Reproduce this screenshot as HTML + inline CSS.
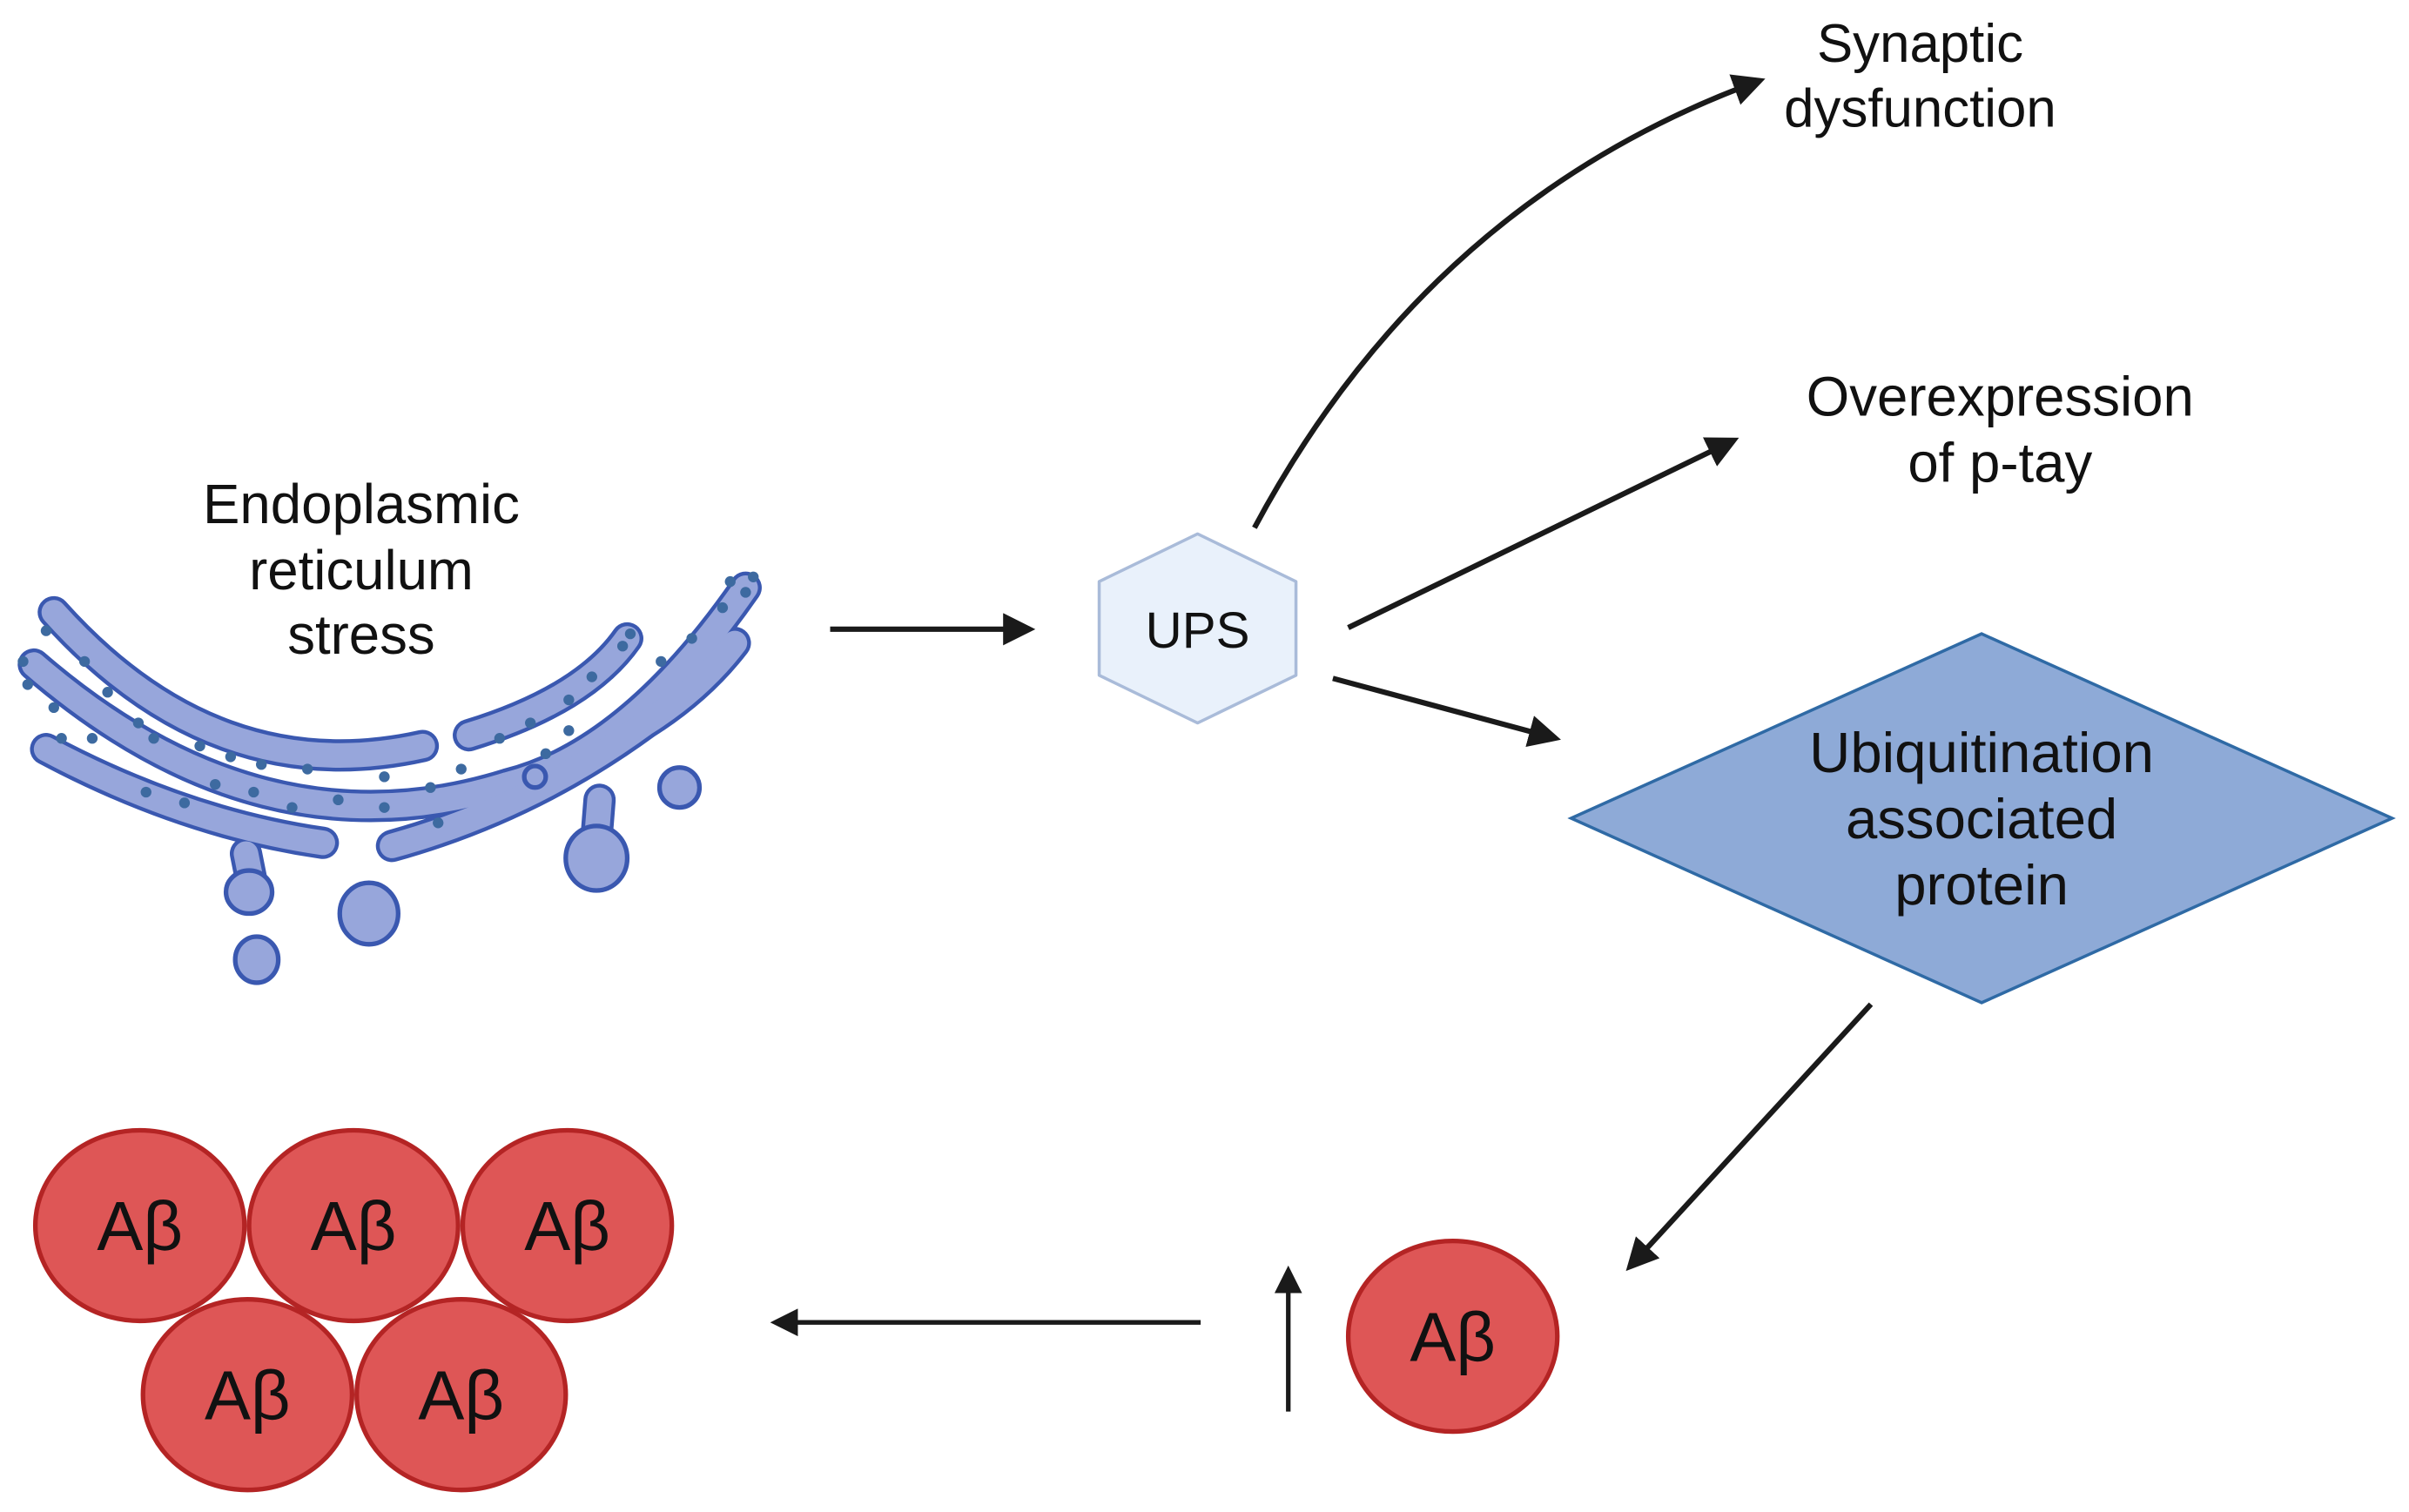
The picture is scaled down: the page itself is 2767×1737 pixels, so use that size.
<!DOCTYPE html>
<html><head><meta charset="utf-8"><style>
html,body{margin:0;padding:0;background:#fff;}
svg{display:block;}
text{font-family:"Liberation Sans",sans-serif;fill:#111;text-anchor:middle;}
</style></head><body>
<svg width="2767" height="1737" viewBox="0 0 1567 983" xmlns="http://www.w3.org/2000/svg">
<defs>
<marker id="ah" markerWidth="6" markerHeight="6" refX="5" refY="3" orient="auto" markerUnits="strokeWidth">
<path d="M0,0 L6,3 L0,6 z" fill="#1a1a1a"/></marker>
</defs>
<rect width="1567" height="983" fill="#fff"/>

<!-- ER text -->
<text x="235" y="340" font-size="36">Endoplasmic</text>
<text x="235" y="383" font-size="36">reticulum</text>
<text x="235" y="425" font-size="36">stress</text>

<!-- ER shape -->
<g fill="none" stroke-linecap="round">
<g stroke="#3a58b0" stroke-width="21">
<path d="M35,398 Q140,515 275,485"/>
<path d="M305,478 Q380,455 408,415"/>
<path d="M22,432 Q170,560 330,510 Q410,490 485,382"/>
<path d="M30,487 Q120,535 210,548"/>
<path d="M255,550 Q345,525 420,470 Q455,448 478,418"/>
<path d="M160,555 L165,580"/>
<path d="M390,520 L388,545"/>
</g>
<g stroke="#97a6db" stroke-width="16">
<path d="M35,398 Q140,515 275,485"/>
<path d="M305,478 Q380,455 408,415"/>
<path d="M22,432 Q170,560 330,510 Q410,490 485,382"/>
<path d="M30,487 Q120,535 210,548"/>
<path d="M255,550 Q345,525 420,470 Q455,448 478,418"/>
<path d="M160,555 L165,580"/>
<path d="M390,520 L388,545"/>
</g>
</g>
<g fill="#97a6db" stroke="#3a58b0" stroke-width="3">
<ellipse cx="167" cy="624" rx="14" ry="15"/>
<ellipse cx="240" cy="594" rx="19" ry="20"/>
<ellipse cx="442" cy="512" rx="13" ry="13"/>
<ellipse cx="388" cy="558" rx="20" ry="21"/>
<ellipse cx="162" cy="580" rx="15" ry="14"/>
<ellipse cx="348" cy="505" rx="7" ry="7"/>
</g>
<g fill="#3d6aa0">
<circle cx="30" cy="410" r="3.5"/><circle cx="55" cy="430" r="3.5"/><circle cx="70" cy="450" r="3.5"/><circle cx="90" cy="470" r="3.5"/>
<circle cx="15" cy="430" r="3.5"/><circle cx="18" cy="445" r="3.5"/><circle cx="35" cy="460" r="3.5"/><circle cx="100" cy="480" r="3.5"/>
<circle cx="130" cy="485" r="3.5"/><circle cx="150" cy="492" r="3.5"/><circle cx="170" cy="497" r="3.5"/><circle cx="200" cy="500" r="3.5"/>
<circle cx="140" cy="510" r="3.5"/><circle cx="165" cy="515" r="3.5"/><circle cx="190" cy="525" r="3.5"/><circle cx="220" cy="520" r="3.5"/>
<circle cx="250" cy="525" r="3.5"/><circle cx="280" cy="512" r="3.5"/><circle cx="300" cy="500" r="3.5"/><circle cx="325" cy="480" r="3.5"/>
<circle cx="345" cy="470" r="3.5"/><circle cx="370" cy="455" r="3.5"/><circle cx="385" cy="440" r="3.5"/><circle cx="405" cy="420" r="3.5"/>
<circle cx="410" cy="412" r="3.5"/><circle cx="430" cy="430" r="3.5"/><circle cx="450" cy="415" r="3.5"/><circle cx="470" cy="395" r="3.5"/>
<circle cx="485" cy="385" r="3.5"/><circle cx="490" cy="375" r="3.5"/><circle cx="475" cy="378" r="3.5"/><circle cx="60" cy="480" r="3.5"/>
<circle cx="95" cy="515" r="3.5"/><circle cx="120" cy="522" r="3.5"/><circle cx="250" cy="505" r="3.5"/><circle cx="285" cy="535" r="3.5"/>
<circle cx="370" cy="475" r="3.5"/><circle cx="355" cy="490" r="3.5"/><circle cx="40" cy="480" r="3.5"/>
</g>

<!-- arrow ER -> UPS -->
<line x1="540" y1="409" x2="670" y2="409" stroke="#1a1a1a" stroke-width="3.5" marker-end="url(#ah)"/>

<!-- UPS hexagon -->
<polygon points="779,347 843,378 843,439 779,470 715,439 715,378" fill="#e9f1fb" stroke="#a9bbd9" stroke-width="2" stroke-linejoin="round"/>
<text x="779" y="421" font-size="33">UPS</text>

<!-- arrows from UPS -->
<path d="M816,343 Q930,130 1145,52" fill="none" stroke="#1a1a1a" stroke-width="3.5" marker-end="url(#ah)"/>
<line x1="877" y1="408" x2="1128" y2="286" stroke="#1a1a1a" stroke-width="3.5" marker-end="url(#ah)"/>
<line x1="867" y1="441" x2="1012" y2="480" stroke="#1a1a1a" stroke-width="3.5" marker-end="url(#ah)"/>

<text x="1249" y="40" font-size="35">Synaptic</text>
<text x="1249" y="82" font-size="35">dysfunction</text>
<text x="1301" y="270" font-size="36">Overexpression</text>
<text x="1301" y="313" font-size="36">of p-tay</text>

<!-- diamond -->
<polygon points="1289,412 1556,532 1289,652 1022,532" fill="#8eaad7" stroke="#2f6aa5" stroke-width="2"/>
<text x="1289" y="502" font-size="37">Ubiquitination</text>
<text x="1289" y="545" font-size="37">associated</text>
<text x="1289" y="588" font-size="37">protein</text>

<line x1="1217" y1="653" x2="1060" y2="824" stroke="#1a1a1a" stroke-width="3.5" marker-end="url(#ah)"/>

<!-- single Abeta -->
<g fill="#de5656" stroke="#b42424" stroke-width="3">
<ellipse cx="945" cy="869" rx="68" ry="62"/>
</g>
<text x="945" y="885" font-size="45">Aβ</text>

<line x1="838" y1="918" x2="838" y2="826" stroke="#1a1a1a" stroke-width="3" marker-end="url(#ah)"/>
<line x1="781" y1="860" x2="504" y2="860" stroke="#1a1a1a" stroke-width="3" marker-end="url(#ah)"/>

<!-- cluster -->
<g fill="#de5656" stroke="#b42424" stroke-width="3">
<ellipse cx="91" cy="797" rx="68" ry="62"/>
<ellipse cx="369" cy="797" rx="68" ry="62"/>
<ellipse cx="230" cy="797" rx="68" ry="62"/>
<ellipse cx="161" cy="907" rx="68" ry="62"/>
<ellipse cx="300" cy="907" rx="68" ry="62"/>
</g>
<text x="91" y="813" font-size="45">Aβ</text>
<text x="230" y="813" font-size="45">Aβ</text>
<text x="369" y="813" font-size="45">Aβ</text>
<text x="161" y="923" font-size="45">Aβ</text>
<text x="300" y="923" font-size="45">Aβ</text>
</svg>
</body></html>
